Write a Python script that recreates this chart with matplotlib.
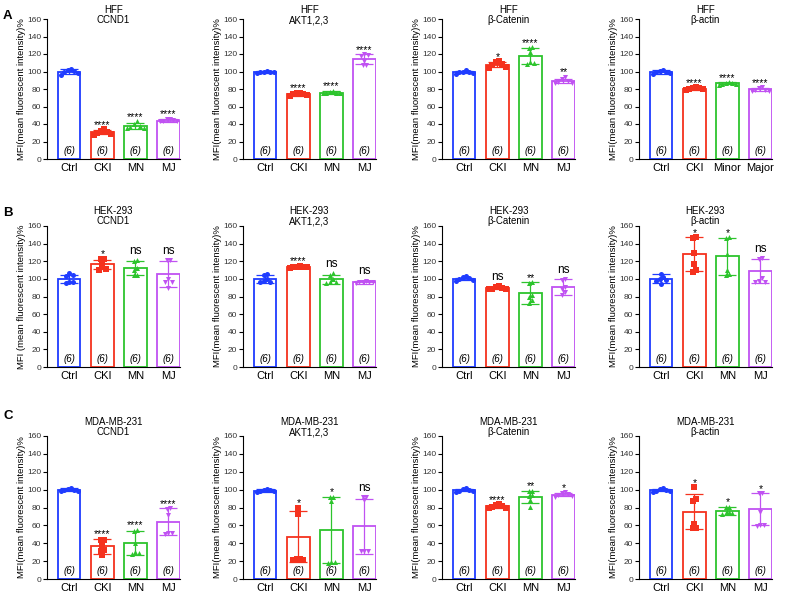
import matplotlib.pyplot as plt
import numpy as np

plt.rcParams['font.family'] = ['Liberation Sans', 'DejaVu Sans']

groups = ["Ctrl", "CKI", "MN", "MJ"]
groups_actin_hff = ["Ctrl", "CKI", "Minor", "Major"]
cell_lines = ["HFF", "HEK-293", "MDA-MB-231"]
targets = ["CCND1", "AKT1,2,3", "β-Catenin", "β-actin"]
panel_letters = ["A", "B", "C"]
n_label = "(6)"

# ---- HFF ----
hff_means = [[100, 31, 38, 44], [99.5, 74, 76, 114], [99.5, 108, 118, 89], [99.5, 80.5, 87, 79.5]]
hff_sd = [[3, 2.5, 3.5, 2], [1.5, 1.5, 1.2, 5.5], [1.5, 3, 9, 2.5], [1.8, 1.2, 1, 1.5]]
hff_points = [
    [[103, 101, 99, 96, 102, 98], [34, 32, 30, 29, 31, 28], [43, 40, 38, 36, 35, 37], [46, 45, 44, 43, 44, 46]],
    [[101, 100, 99, 98, 100, 99], [76, 75, 74, 73, 72, 74], [77, 76, 75, 76, 78, 75], [120, 119, 118, 112, 108, 107]],
    [[102, 100, 99, 98, 97, 100], [112, 111, 109, 107, 105, 104], [128, 127, 122, 111, 109, 110], [94, 91, 89, 88, 87, 87]],
    [[102, 101, 100, 98, 97, 99], [82, 81, 80, 80, 79, 81], [88, 87, 86, 87, 86, 85], [82, 81, 79, 78, 79, 78]],
]
hff_sig = [["", "****", "****", "****"], ["", "****", "****", "****"],
           ["", "*", "****", "**"], ["", "****", "****", "****"]]

# ---- HEK-293 ----
hek_means = [[100, 116.5, 112, 105.5], [100, 113.5, 99.5, 96], [100, 89.5, 84, 91], [100, 128, 125.5, 109]]
hek_sd = [[4.5, 5, 8, 15], [4.5, 1.5, 5, 1.5], [1.5, 1.5, 12, 9], [5, 19.5, 21, 14]]
hek_points = [
    [[107, 104, 103, 97, 96, 95], [123, 122, 117, 113, 111, 110], [120, 121, 112, 104, 104, 110], [121, 121, 97, 96, 90, 100]],
    [[105, 104, 100, 98, 96, 97], [115, 114, 113, 112, 114, 113], [107, 104, 100, 96, 95, 97], [98, 97, 96, 95, 96, 97]],
    [[103, 102, 100, 98, 99, 101], [91, 92, 90, 89, 88, 89], [96, 95, 80, 76, 73, 82], [100, 99, 89, 85, 82, 91]],
    [[106, 102, 99, 98, 94, 100], [147, 146, 129, 117, 110, 108], [147, 146, 128, 110, 106, 104], [124, 123, 101, 97, 96, 98]],
]
hek_sig = [["", "*", "ns", "ns"], ["", "****", "ns", "ns"],
           ["", "ns", "**", "ns"], ["", "*", "*", "ns"]]

# ---- MDA-MB-231 ----
mda_means = [[100, 36.5, 40.5, 64], [99, 47.5, 55, 59], [99.5, 81.5, 92, 94.5], [99.5, 75.5, 76, 78]]
mda_sd = [[1.5, 8.5, 13.5, 15], [1.5, 29, 37, 31], [1.5, 1.5, 7, 2], [1.5, 20, 4.5, 18]]
mda_points = [
    [[102, 101, 100, 99, 98, 100], [44, 44, 38, 33, 27, 31], [55, 54, 40, 30, 28, 29], [79, 78, 72, 52, 50, 51]],
    [[101, 100, 99, 98, 97, 100], [80, 73, 22, 21, 21, 22], [92, 92, 87, 19, 18, 19], [92, 92, 88, 31, 31, 31]],
    [[102, 101, 100, 98, 99, 97], [84, 83, 82, 81, 80, 79], [99, 98, 94, 93, 88, 81], [97, 96, 95, 94, 93, 92]],
    [[102, 101, 100, 98, 99, 97], [103, 90, 87, 62, 57, 57], [81, 81, 75, 74, 74, 73], [96, 96, 75, 60, 60, 59]],
]
mda_sig = [["", "****", "****", "****"], ["", "*", "*", "ns"],
           ["", "****", "**", "*"], ["", "*", "*", "*"]]

colors = ["#1f3cff", "#f5321e", "#2dc42d", "#c052f2"]
markers = ["o", "s", "^", "v"]

rows_data = [
    (hff_means, hff_sd, hff_points, hff_sig),
    (hek_means, hek_sd, hek_points, hek_sig),
    (mda_means, mda_sd, mda_points, mda_sig),
]

W, H = 785, 596
col_left = [47, 243, 442, 639]
row_span = [(19, 159), (226, 367), (436, 579)]
title_offset = [-4.5, 0.0, -1.0]  # points
letter_top = [10, 207, 410]       # pixels
ax_w = 133


def spread(vals, thresh=4.0, step=0.1):
    """Prism-like horizontal spreading of close points (zig-zag inside a cluster)."""
    vals = np.asarray(vals, float)
    order = np.argsort(vals, kind="stable")
    offs = np.zeros(len(vals))
    clusters, cur = [], [order[0]]
    for a, b in zip(order[:-1], order[1:]):
        if vals[b] - vals[a] < thresh:
            cur.append(b)
        else:
            clusters.append(cur)
            cur = [b]
    clusters.append(cur)
    for cl in clusters:
        k = len(cl)
        slots = [(j - (k - 1) / 2) * step for j in range(k)]
        seq = []
        lo, hi = 0, k - 1
        while lo <= hi:
            seq.append(slots[lo])
            if hi != lo:
                seq.append(slots[hi])
            lo += 1
            hi -= 1
        for idx, o in zip(cl, seq):
            offs[idx] = o
    return offs


fig = plt.figure(figsize=(W / 100, H / 100), dpi=100)

for r, (means, sds, points, sigs) in enumerate(rows_data):
    top, bot = row_span[r]
    for c in range(4):
        ax = fig.add_axes([col_left[c] / W, 1 - bot / H, ax_w / W, (bot - top) / H])
        labels = groups_actin_hff if (r == 0 and c == 3) else groups
        x = np.arange(4)
        for i in range(4):
            col = colors[i]
            ax.bar(x[i], means[c][i], width=0.67, facecolor="white", edgecolor=col,
                   linewidth=1.3, zorder=2)
            ax.errorbar(x[i], means[c][i], yerr=sds[c][i], color=col, lw=0.9,
                        capsize=6.5, capthick=0.9, zorder=4)
            pts = points[c][i]
            ax.scatter(x[i] + spread(pts), pts, marker=markers[i], s=13, color=col,
                       linewidths=0, zorder=3)
            ax.text(x[i], 9, n_label, ha="center", va="center", fontsize=7,
                    style="italic", zorder=5)
            s = sigs[c][i]
            if s:
                ytop = max(means[c][i] + sds[c][i], max(pts))
                if s == "ns":
                    ax.text(x[i], ytop + 7, s, ha="center", va="baseline", fontsize=8.5)
                else:
                    ax.text(x[i], ytop + 1.5, s, ha="center", va="baseline", fontsize=7.5)
        ax.set_xlim(-0.68, 3.35)
        ax.set_ylim(0, 160)
        ax.set_yticks(np.arange(0, 161, 20))
        ax.set_xticks(x)
        ax.set_xticklabels(labels, fontsize=8)
        ax.tick_params(axis="x", length=0, pad=3)
        ax.tick_params(axis="y", length=3, width=0.8, pad=1, labelsize=6, labelcolor="#333333")
        for sp in ["top", "right"]:
            ax.spines[sp].set_visible(False)
        for sp in ["left", "bottom"]:
            ax.spines[sp].set_linewidth(0.8)
        ylab = "MFI(mean fluorescent intensity)%"
        if r == 1 and c == 0:
            ylab = "MFI (mean fluorescent intensity)%"
        ax.set_ylabel(ylab, fontsize=6.8, labelpad=1)
        ax.annotate(f"{cell_lines[r]}\n{targets[c]}", xy=(0.5, 1), xycoords="axes fraction",
                    xytext=(0, title_offset[r]), textcoords="offset points",
                    ha="center", va="bottom", fontsize=7, linespacing=1.0)
    fig.text(3 / W, 1 - letter_top[r] / H, panel_letters[r],
             fontsize=9.5, fontweight="bold", ha="left", va="top")

fig.savefig("out.png", dpi=100)
